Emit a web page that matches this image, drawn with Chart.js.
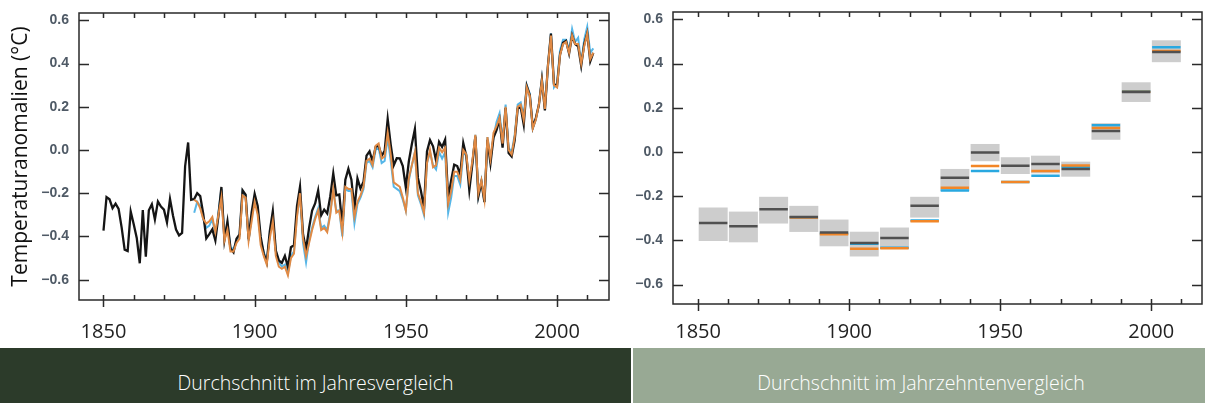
<!DOCTYPE html>
<html lang="de">
<head>
<meta charset="utf-8">
<title>Temperaturanomalien</title>
<script src="https://cdn.jsdelivr.net/npm/chart.js@4.4.1/dist/chart.umd.min.js"></script>
<style>
  html, body { margin: 0; padding: 0; background: #fff; }
  body { width: 1205px; height: 403px; position: relative; overflow: hidden; font-family: "Open Sans", sans-serif; }
  #links { position: absolute; left: 0; top: 0; width: 632px; height: 345px; }
  #rechts { position: absolute; left: 632px; top: 0; width: 573px; height: 345px; }
  .band { position: absolute; top: 348px; height: 55px; box-sizing: border-box; padding-top: 14px;
          color: #fff; font-weight: 300; font-size: 19.5px; display: flex; align-items: center; justify-content: center; }
  #band1 { left: 0; width: 631px; background: #2c3b2a; }
  #band2 { left: 633px; width: 572px; background: #98a994; padding-left: 4px; }
</style>
</head>
<body>
<div id="links"><canvas id="jahresChart"></canvas></div>
<div id="rechts"><canvas id="dekadenChart"></canvas></div>
<div class="band" id="band1">Durchschnitt im Jahresvergleich</div>
<div class="band" id="band2">Durchschnitt im Jahrzehntenvergleich</div>

<script>
// Jahreswerte, schwarz ab 1850, orange und blau ab 1880
var startSchwarz = 1850;
var schwarz = [
  -0.373, -0.218, -0.228, -0.269, -0.248, -0.272, -0.358, -0.461, -0.467, -0.284,
  -0.343, -0.407, -0.524, -0.278, -0.494, -0.279, -0.251, -0.321, -0.238, -0.262,
  -0.276, -0.335, -0.227, -0.304, -0.368, -0.395, -0.384, -0.075, 0.035, -0.230,
  -0.227, -0.200, -0.213, -0.296, -0.409, -0.389, -0.367, -0.418, -0.307, -0.171,
  -0.416, -0.330, -0.455, -0.473, -0.410, -0.390, -0.186, -0.206, -0.412, -0.289,
  -0.203, -0.259, -0.402, -0.479, -0.520, -0.377, -0.283, -0.465, -0.511, -0.522,
  -0.49, -0.54, -0.45, -0.44, -0.26, -0.17, -0.39, -0.46, -0.36, -0.28,
  -0.247, -0.187, -0.302, -0.276, -0.294, -0.215, -0.108, -0.210, -0.206, -0.350,
  -0.137, -0.087, -0.137, -0.273, -0.131, -0.178, -0.147, -0.026, -0.006, -0.052,
  0.014, 0.020, -0.027, -0.004, 0.144, 0.025, -0.071, -0.038, -0.039, -0.074,
  -0.173, -0.052, 0.028, 0.097, -0.129, -0.190, -0.267, -0.007, 0.046, 0.017,
  -0.049, 0.038, 0.014, 0.048, -0.223, -0.140, -0.068, -0.074, -0.113, 0.032,
  -0.027, -0.186, -0.065, 0.062, -0.214, -0.149, -0.241, 0.047, -0.062, 0.057,
  0.092, 0.140, 0.011, 0.194, -0.014, -0.030, 0.045, 0.192, 0.198, 0.118,
  0.296, 0.254, 0.105, 0.148, 0.208, 0.325, 0.183, 0.390, 0.539, 0.306,
  0.294, 0.441, 0.496, 0.505, 0.447, 0.53, 0.49, 0.48, 0.39, 0.49,
  0.54, 0.41, 0.45
];
var startFarbig = 1880;
var orange = [
  -0.23, -0.24, -0.27, -0.32, -0.34, -0.33, -0.31, -0.38, -0.30, -0.22,
  -0.42, -0.37, -0.47, -0.47, -0.43, -0.41, -0.21, -0.22, -0.42, -0.33,
  -0.24, -0.30, -0.44, -0.49, -0.53, -0.41, -0.33, -0.49, -0.54, -0.55,
  -0.54, -0.58, -0.50, -0.48, -0.31, -0.20, -0.41, -0.49, -0.43, -0.37,
  -0.32, -0.28, -0.37, -0.36, -0.38, -0.30, -0.18, -0.29, -0.28, -0.38,
  -0.17, -0.18, -0.18, -0.31, -0.24, -0.21, -0.17, -0.05, -0.04, -0.07,
  0.02, 0.03, -0.04, -0.03, 0.08, -0.02, -0.15, -0.16, -0.17, -0.22,
  -0.28, -0.13, -0.07, -0.01, -0.20, -0.24, -0.29, -0.06, 0.00, -0.08,
  -0.07, 0.01, -0.01, 0.01, -0.25, -0.19, -0.10, -0.10, -0.14, 0.00,
  -0.02, -0.14, -0.05, 0.07, -0.20, -0.14, -0.23, 0.06, -0.04, 0.08,
  0.11, 0.15, 0.03, 0.20, 0.00, -0.02, 0.06, 0.20, 0.21, 0.14,
  0.29, 0.25, 0.10, 0.14, 0.21, 0.32, 0.19, 0.39, 0.53, 0.30,
  0.29, 0.44, 0.49, 0.50, 0.45, 0.53, 0.49, 0.49, 0.40, 0.48,
  0.54, 0.42, 0.45
];
var blau = [
  -0.29, -0.24, -0.26, -0.32, -0.36, -0.35, -0.32, -0.39, -0.29, -0.18,
  -0.40, -0.34, -0.45, -0.46, -0.42, -0.40, -0.19, -0.21, -0.42, -0.31,
  -0.22, -0.28, -0.42, -0.47, -0.52, -0.39, -0.31, -0.47, -0.52, -0.54,
  -0.53, -0.57, -0.49, -0.47, -0.30, -0.21, -0.43, -0.52, -0.42, -0.36,
  -0.31, -0.27, -0.36, -0.35, -0.37, -0.29, -0.18, -0.28, -0.28, -0.40,
  -0.18, -0.19, -0.19, -0.34, -0.25, -0.22, -0.18, -0.06, -0.05, -0.08,
  0.00, 0.01, -0.06, -0.05, 0.06, -0.05, -0.17, -0.18, -0.19, -0.23,
  -0.28, -0.14, -0.07, -0.01, -0.21, -0.25, -0.30, -0.06, -0.01, -0.07,
  -0.09, -0.01, -0.04, -0.01, -0.29, -0.22, -0.12, -0.12, -0.16, -0.02,
  -0.02, -0.15, -0.06, 0.07, -0.21, -0.14, -0.24, 0.06, -0.04, 0.06,
  0.13, 0.17, 0.04, 0.21, 0.01, -0.01, 0.07, 0.21, 0.22, 0.16,
  0.30, 0.26, 0.10, 0.14, 0.21, 0.33, 0.19, 0.39, 0.54, 0.29,
  0.31, 0.46, 0.51, 0.51, 0.46, 0.56, 0.50, 0.52, 0.40, 0.51,
  0.57, 0.45, 0.47
];

// Dekadenmittel
var dekaden = [1850, 1860, 1870, 1880, 1890, 1900, 1910, 1920, 1930, 1940, 1950, 1960, 1970, 1980, 1990, 2000];
var dekSchwarz = [-0.321, -0.336, -0.259, -0.294, -0.364, -0.412, -0.389, -0.244, -0.117, -0.003, -0.062, -0.055, -0.077, 0.095, 0.271, 0.452];
var dekOrange = [null, null, null, -0.297, -0.373, -0.438, -0.436, -0.314, -0.162, -0.064, -0.136, -0.086, -0.061, 0.108, 0.272, 0.456];
var dekBlau = [null, null, null, -0.296, -0.370, -0.415, -0.433, -0.310, -0.174, -0.086, -0.136, -0.108, -0.067, 0.121, 0.274, 0.474];
var dekUnten = [-0.403, -0.409, -0.324, -0.362, -0.427, -0.473, -0.438, -0.297, -0.177, -0.042, -0.100, -0.097, -0.112, 0.055, 0.226, 0.406];
var dekOben = [-0.252, -0.270, -0.203, -0.244, -0.306, -0.361, -0.342, -0.203, -0.077, 0.036, -0.024, -0.017, -0.044, 0.130, 0.315, 0.505];

// Achsenbeschriftung
var xTicks = [1850, 1900, 1950, 2000];
var yTicks = [-0.6, -0.4, -0.2, 0.0, 0.2, 0.4, 0.6];

function punkte(start, werte) {
  var p = [];
  for (var i = 0; i < werte.length; i++) {
    p.push({ x: start + i, y: werte[i] });
  }
  return p;
}

function dekadenLinie(werte) {
  var p = [];
  for (var i = 0; i < dekaden.length; i++) {
    if (werte[i] === null) continue;
    p.push({ x: dekaden[i] + 0.3, y: werte[i] });
    p.push({ x: dekaden[i] + 9.7, y: werte[i] });
    p.push({ x: dekaden[i] + 9.7, y: null });
  }
  return p;
}

// Rahmen und nach innen zeigende Striche
var rahmen = {
  id: 'rahmen',
  afterDatasetsDraw: function(chart) {
    var ctx = chart.ctx;
    var a = chart.chartArea;
    var xs = chart.scales.x;
    var ys = chart.scales.y;
    ctx.save();
    ctx.strokeStyle = '#2a2a2a';
    ctx.lineWidth = 1.5;
    ctx.strokeRect(a.left, a.top, a.right - a.left, a.bottom - a.top);
    ctx.beginPath();
    yTicks.forEach(function(v) {
      var y = Math.round(ys.getPixelForValue(v)) + 0.5;
      ctx.moveTo(a.left, y); ctx.lineTo(a.left + 10, y);
      ctx.moveTo(a.right, y); ctx.lineTo(a.right - 10, y);
    });
    for (var j = 1850; j <= 2010; j += 10) {
      var x = Math.round(xs.getPixelForValue(j)) + 0.5;
      ctx.moveTo(x, a.top); ctx.lineTo(x, a.top + 5);
      ctx.moveTo(x, a.bottom); ctx.lineTo(x, a.bottom - 5);
      if (xTicks.indexOf(j) >= 0) {
        ctx.moveTo(x, a.bottom); ctx.lineTo(x, a.bottom + 7);
      }
    }
    ctx.stroke();
    ctx.restore();
  }
};

function xAchse(min, max, hoehe, abstand) {
  return {
    type: 'linear', min: min, max: max, offset: false,
    grid: { display: false }, border: { display: false },
    ticks: {
      font: { family: 'Open Sans', size: 20 }, color: '#222', padding: abstand,
      maxRotation: 0, autoSkip: false,
      callback: function(v) { return String(v); }
    },
    afterBuildTicks: function(s) { s.ticks = xTicks.map(function(v) { return { value: v }; }); },
    afterFit: function(s) { s.height = hoehe; s.paddingLeft = 0; s.paddingRight = 0; }
  };
}

function yAchse(min, max, breite, titel) {
  var achse = {
    min: min, max: max,
    grid: { display: false }, border: { display: false },
    ticks: {
      font: { family: 'Liberation Sans', size: 14, weight: 'bold' }, color: '#4f5a66', padding: 2,
      callback: function(v) { return v.toFixed(1).replace('-', '\u2212'); }
    },
    afterBuildTicks: function(s) { s.ticks = yTicks.map(function(v) { return { value: v }; }); },
    afterFit: function(s) { s.width = breite; s.paddingTop = 0; s.paddingBottom = 0; }
  };
  if (titel) {
    achse.title = {
      display: true, text: titel, color: '#111',
      font: { family: 'Open Sans', size: 21 }, padding: { top: 8, bottom: 0 }
    };
  }
  return achse;
}

new Chart(document.getElementById('jahresChart'), {
  type: 'line',
  data: {
    datasets: [
      { data: punkte(startFarbig, blau), borderColor: '#55b6e8', borderWidth: 2, order: 3 },
      { data: punkte(startSchwarz, schwarz), borderColor: '#151515', borderWidth: 2.3, order: 2 },
      { data: punkte(startFarbig, orange), borderColor: '#e08a45', borderWidth: 2, order: 1 }
    ]
  },
  options: {
    responsive: true, maintainAspectRatio: false, animation: false,
    layout: { padding: { top: 13, right: 23, left: 0, bottom: 0 } },
    elements: { point: { radius: 0 }, line: { tension: 0 } },
    plugins: { legend: { display: false }, tooltip: { enabled: false } },
    scales: {
      x: xAchse(1841.9, 2017.2, 45, 12),
      y: yAchse(-0.694, 0.634, 79, 'Temperaturanomalien (°C)')
    }
  },
  plugins: [rahmen]
});

var boxen = dekaden.map(function(d, i) { return { x: d + 5, y: [dekUnten[i], dekOben[i]] }; });

new Chart(document.getElementById('dekadenChart'), {
  type: 'bar',
  data: {
    datasets: [
      { type: 'bar', data: boxen, backgroundColor: '#cdcdcd', borderWidth: 0,
        categoryPercentage: 1, barPercentage: 0.96, order: 4 },
      { type: 'line', data: dekadenLinie(dekBlau), borderColor: '#29a8e0', borderWidth: 2.5, order: 3 },
      { type: 'line', data: dekadenLinie(dekOrange), borderColor: '#f28627', borderWidth: 2.5, order: 2 },
      { type: 'line', data: dekadenLinie(dekSchwarz), borderColor: '#505050', borderWidth: 2.5, order: 1 }
    ]
  },
  options: {
    responsive: true, maintainAspectRatio: false, animation: false,
    layout: { padding: { top: 12, right: 3, left: 0, bottom: 0 } },
    elements: { point: { radius: 0 }, line: { tension: 0 } },
    plugins: { legend: { display: false }, tooltip: { enabled: false } },
    scales: {
      x: xAchse(1841.7, 2016.8, 41, 8),
      y: yAchse(-0.688, 0.633, 41, null)
    }
  },
  plugins: [rahmen]
});
</script>
</body>
</html>
